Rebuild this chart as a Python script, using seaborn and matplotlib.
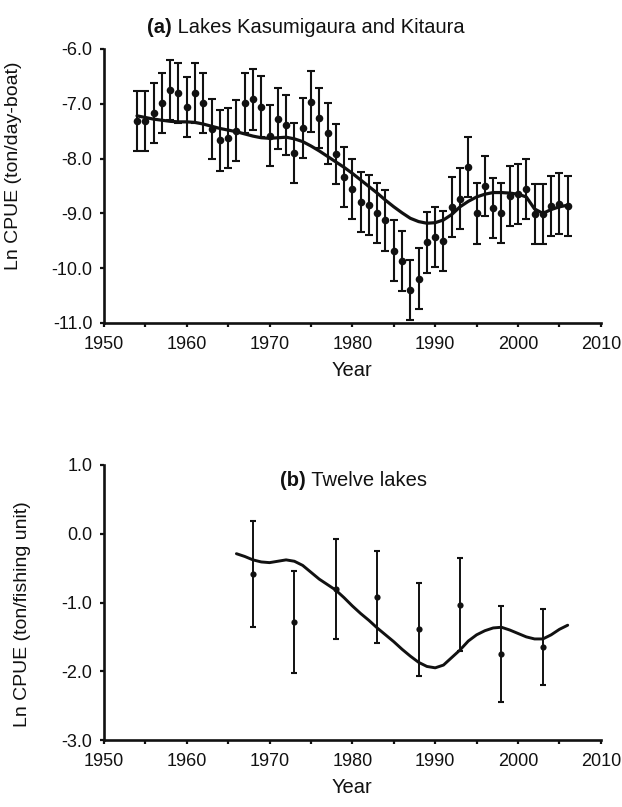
import numpy as np
import pandas as pd
import matplotlib
matplotlib.use("Agg")
import matplotlib.pyplot as plt
import seaborn as sns

# ---------------- data ----------------
years_a = list(range(1954, 2007))
cpue_a = [-7.31, -7.31, -7.17, -6.99, -6.75, -6.80, -7.06, -6.80, -6.98, -7.46,
          -7.67, -7.63, -7.49, -6.98, -6.92, -7.05, -7.58, -7.27, -7.39, -7.90,
          -7.44, -6.96, -7.26, -7.54, -7.92, -8.34, -8.55, -8.79, -8.85, -8.99,
          -9.13, -9.68, -9.87, -10.40, -10.19, -9.53, -9.43, -9.50, -8.88, -8.73,
          -8.15, -9.00, -8.50, -8.90, -8.99, -8.68, -8.64, -8.56, -9.01, -9.01,
          -8.87, -8.82, -8.87]
err_a = [0.55, 0.55, 0.55, 0.55, 0.55, 0.55, 0.55, 0.55, 0.55, 0.55,
         0.55, 0.55, 0.55, 0.55, 0.55, 0.55, 0.55, 0.55, 0.55, 0.55,
         0.55, 0.55, 0.55, 0.55, 0.55, 0.55, 0.55, 0.55, 0.55, 0.55,
         0.55, 0.55, 0.55, 0.55, 0.55, 0.55, 0.55, 0.55, 0.55, 0.55,
         0.55, 0.55, 0.55, 0.55, 0.55, 0.55, 0.55, 0.55, 0.55, 0.55,
         0.55, 0.55, 0.55]
trend_a = [-7.22, -7.25, -7.28, -7.30, -7.32, -7.33, -7.33, -7.34, -7.37, -7.41,
           -7.45, -7.48, -7.51, -7.55, -7.59, -7.62, -7.63, -7.62, -7.61, -7.64,
           -7.69, -7.77, -7.86, -7.96, -8.06, -8.16, -8.27, -8.39, -8.51, -8.63,
           -8.76, -8.88, -8.99, -9.09, -9.15, -9.18, -9.17, -9.12, -9.02, -8.88,
           -8.78, -8.70, -8.65, -8.62, -8.62, -8.63, -8.65, -8.70, -8.92, -9.00,
           -8.93, -8.88, -8.85]

years_b = [1968, 1973, 1978, 1983, 1988, 1993, 1998, 2003]
cpue_b = [-0.59, -1.28, -0.80, -0.92, -1.39, -1.03, -1.75, -1.65]
err_b = [0.77, 0.74, 0.73, 0.67, 0.68, 0.68, 0.70, 0.55]
trend_years_b = list(range(1966, 2007))
trend_b = [-0.29, -0.33, -0.38, -0.41, -0.42, -0.40, -0.38, -0.40, -0.46, -0.56,
           -0.66, -0.74, -0.82, -0.93, -1.05, -1.16, -1.26, -1.37, -1.47, -1.57,
           -1.68, -1.78, -1.87, -1.93, -1.95, -1.91, -1.80, -1.69, -1.56, -1.47,
           -1.41, -1.37, -1.36, -1.40, -1.45, -1.50, -1.53, -1.53, -1.47, -1.39,
           -1.33]

xticks = [1950, 1960, 1970, 1980, 1990, 2000, 2010]
yticks_a = [-11.0, -10.0, -9.0, -8.0, -7.0, -6.0]
yticks_b = [-3.0, -2.0, -1.0, 0.0, 1.0]

# ---------------- style ----------------
sns.set_theme(style="ticks")
plt.rcParams["font.family"] = ["Liberation Sans", "DejaVu Sans"]
plt.rcParams["axes.unicode_minus"] = False

INK = "#111111"

fig = plt.figure(figsize=(6.22, 8.07), dpi=100)
ax_a = fig.add_axes([0.167, 0.5998, 0.799, 0.3395])
ax_b = fig.add_axes([0.167, 0.083, 0.799, 0.3408])

df_pa = pd.DataFrame({"Year": years_a, "CPUE": cpue_a, "err": err_a})
df_ta = pd.DataFrame({"Year": years_a, "CPUE": trend_a})
df_pb = pd.DataFrame({"Year": years_b, "CPUE": cpue_b, "err": err_b})
df_tb = pd.DataFrame({"Year": trend_years_b, "CPUE": trend_b})


def style_axis(ax, yticks, ylim):
    ax.set_xlim(1950, 2010)
    ax.set_ylim(*ylim)
    ax.set_xticks(xticks)
    ax.set_xticks(list(range(1955, 2010, 10)), minor=True)
    ax.set_yticks(yticks)
    ax.set_yticklabels([f"{v:.1f}" for v in yticks])
    ax.set_xticklabels([str(v) for v in xticks])
    for s in ["top", "right"]:
        ax.spines[s].set_visible(False)
    for s in ["left", "bottom"]:
        ax.spines[s].set_linewidth(1.9)
        ax.spines[s].set_color(INK)
    ax.tick_params(axis="both", which="both", direction="out", length=3.2,
                   width=1.6, color=INK, labelsize=13, labelcolor=INK)
    ax.tick_params(axis="x", pad=6)
    ax.tick_params(axis="y", pad=5)
    ax.set_xlabel("Year", fontsize=14.5, color=INK, labelpad=6)


# ---- panel (a)
ax_a.errorbar(df_pa["Year"], df_pa["CPUE"], yerr=df_pa["err"], fmt="none",
              ecolor=INK, elinewidth=1.5, capsize=2.6, capthick=1.5, zorder=2)
sns.scatterplot(data=df_pa, x="Year", y="CPUE", ax=ax_a, s=30, color=INK,
                edgecolor=INK, linewidth=0, zorder=3)
sns.lineplot(data=df_ta, x="Year", y="CPUE", ax=ax_a, color=INK, linewidth=2.3,
             zorder=4)
style_axis(ax_a, yticks_a, (-11.0, -6.0))
ax_a.set_ylabel("Ln CPUE (ton/day-boat)", fontsize=14, color=INK)
ax_a.yaxis.set_label_coords(-0.165, 0.573)

# ---- panel (b)
ax_b.errorbar(df_pb["Year"], df_pb["CPUE"], yerr=df_pb["err"], fmt="none",
              ecolor=INK, elinewidth=1.4, capsize=2.5, capthick=1.5, zorder=2)
sns.scatterplot(data=df_pb, x="Year", y="CPUE", ax=ax_b, s=20, color=INK,
                edgecolor=INK, linewidth=0, zorder=3)
sns.lineplot(data=df_tb, x="Year", y="CPUE", ax=ax_b, color=INK, linewidth=2.1,
             zorder=4)
style_axis(ax_b, yticks_b, (-3.0, 1.0))
ax_b.set_ylabel("Ln CPUE (ton/fishing unit)", fontsize=14, color=INK)
ax_b.yaxis.set_label_coords(-0.147, 0.458)

# ---- titles: bold panel letter + normal text
def two_part_title(x, y, bold, rest):
    t1 = fig.text(x, y, bold, fontsize=14.5, fontweight="bold", color=INK,
                  ha="left", va="center")
    t2 = plt.annotate(rest, xy=(1, 0), xycoords=t1, fontsize=14.5, color=INK,
                      ha="left", va="bottom", annotation_clip=False)
    return t1, t2

two_part_title(0.236, 0.9665, "(a)", " Lakes Kasumigaura and Kitaura")
two_part_title(0.450, 0.405, "(b)", " Twelve lakes")

fig.savefig("out.png", dpi=100)
